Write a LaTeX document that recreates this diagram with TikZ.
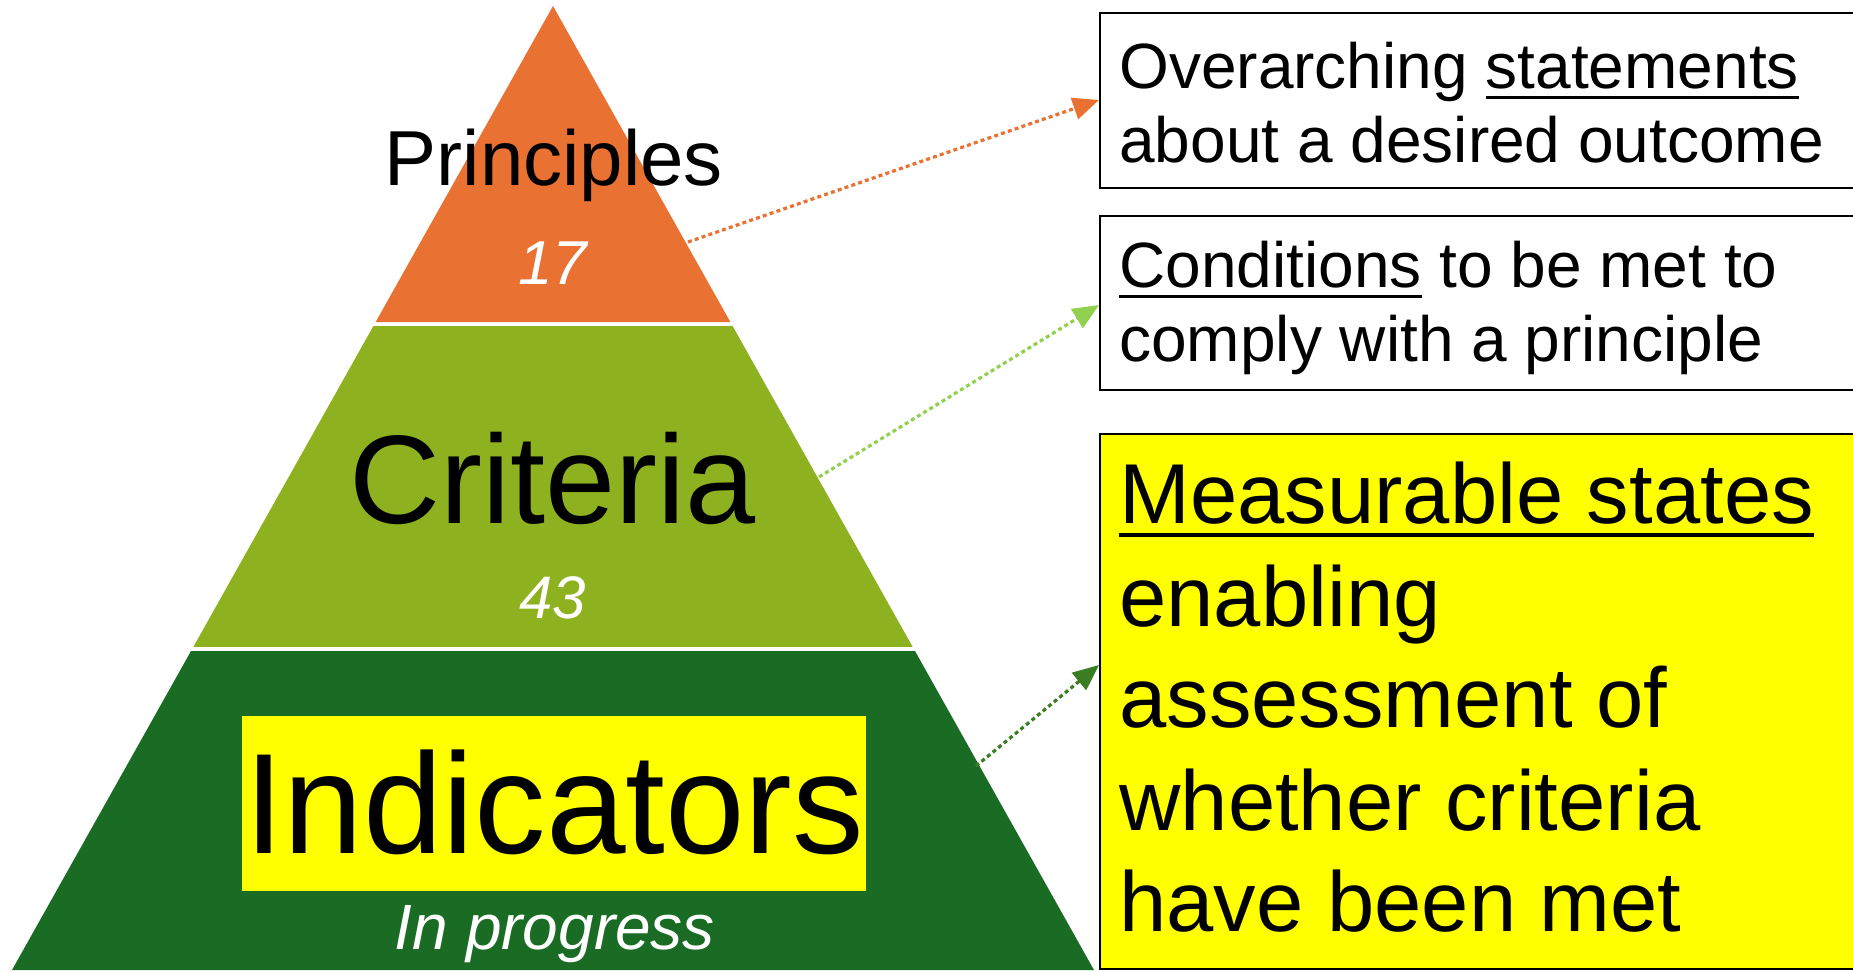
\documentclass[tikz,border=0pt]{standalone}
\usepackage{fontspec}
\setmainfont{Liberation Sans}
\usetikzlibrary{arrows.meta,calc}
\definecolor{porange}{HTML}{E97132}
\definecolor{pcrit}{HTML}{8EB11F}
\definecolor{pind}{HTML}{1A6B24}
\definecolor{alight}{HTML}{92D050}
\definecolor{adark}{HTML}{3A7D22}
\definecolor{hyellow}{HTML}{FFFF00}
\newcommand\myul[1]{\setbox0\hbox{#1}\rlap{\rule[-0.17em]{\wd0}{0.05em}}\box0\relax}
\begin{document}
\begin{tikzpicture}[x=0.5pt,y=-0.5pt,
  lbl/.style={inner sep=0pt, anchor=base},
  txt/.style={inner sep=0pt, anchor=base west},
  smalltxt/.style={txt, font=\fontsize{32}{32}\selectfont},
  bigtxt/.style={txt, font=\fontsize{42.5}{42.5}\selectfont},
  infobox/.style={draw=black, line width=1pt, anchor=north west, minimum width=420pt, inner sep=0pt},
  link/.style={line width=1.6pt, dash pattern=on 2pt off 1.6pt, -{Triangle[length=13pt,width=11pt]}}]
\useasboundingbox (0,0) rectangle (1853,970);
\clip (0,0) rectangle (1853,970);
% pyramid
\coordinate (apex) at (553,6);
\coordinate (bl) at (12,970);
\coordinate (br) at (1094,970);
\fill[porange] (apex) -- ($(apex)!0.3278!(bl)$) -- ($(apex)!0.3278!(br)$) -- cycle;
\fill[pcrit] ($(apex)!0.3320!(bl)$) -- ($(apex)!0.6649!(bl)$) -- ($(apex)!0.6649!(br)$) -- ($(apex)!0.3320!(br)$) -- cycle;
\fill[pind] ($(apex)!0.6691!(bl)$) -- (bl) -- (br) -- ($(apex)!0.6691!(br)$) -- cycle;
% pyramid labels
\node[lbl, font=\fontsize{39}{39}\selectfont] (prin) at (554,185) {Principles};
\node[lbl, white, font=\itshape\fontsize{31}{31}\selectfont] (n17) at (553,284) {17};
\node[lbl, font=\fontsize{63}{63}\selectfont] (crit) at (553,523) {Criteria};
\node[lbl, white, font=\itshape\fontsize{30}{30}\selectfont] (n43) at (553,618) {43};
\node[fill=hyellow, minimum width=312pt, minimum height=87.5pt, inner sep=0pt] (indbg) at (554,803.5) {};
\node[lbl, font=\fontsize{71.5}{71.5}\selectfont] (ind) at (554,853) {Indicators};
\node[lbl, white, font=\itshape\fontsize{32}{32}\selectfont] (prog) at (555,949) {In progress};
% boxes
\node[infobox, minimum height=87.5pt] (box1) at (1099,12) {};
\node[infobox, minimum height=87pt] (box2) at (1099,215) {};
\node[infobox, fill=hyellow, minimum height=267.5pt] (box3) at (1099,433) {};
\node[smalltxt] (t1a) at (1119,88.6) {Overarching \myul{statements}};
\node[smalltxt] (t1b) at (1119,162) {about a desired outcome};
\node[smalltxt] (t2a) at (1119,287) {\myul{Conditions} to be met to};
\node[smalltxt] (t2b) at (1119,361) {comply with a principle};
\node[bigtxt] (t3a) at (1119,523) {\myul{Measurable states}};
\node[bigtxt] (t3b) at (1119,626) {enabling};
\node[bigtxt] (t3c) at (1119,727) {assessment of};
\node[bigtxt] (t3d) at (1119,830) {whether criteria};
\node[bigtxt] (t3e) at (1119,931) {have been met};
% connectors
\coordinate (s1) at (688,242);
\coordinate (e1) at ($(box1.north west)+(0,88)$);
\coordinate (s2) at (819,477);
\coordinate (e2) at ($(box2.north west)+(0,90)$);
\coordinate (s3) at (976,766);
\coordinate (e3) at ($(box3.north west)+(0,232)$);
\draw[link, porange] (s1) -- (e1);
\draw[link, alight] (s2) -- (e2);
\draw[link, adark] (s3) -- (e3);
\end{tikzpicture}
\end{document}
